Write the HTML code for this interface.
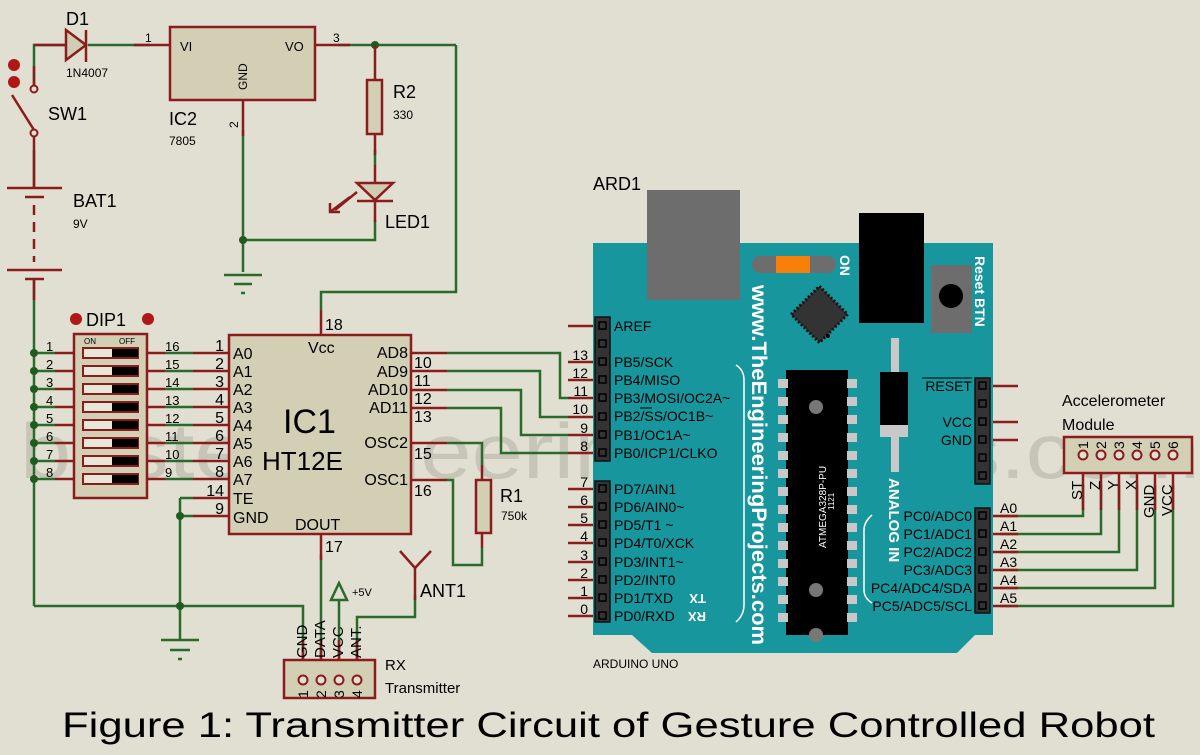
<!DOCTYPE html>
<html><head><meta charset="utf-8"><style>
html,body{margin:0;padding:0;background:#e0dfd1;}
svg{display:block;font-family:"Liberation Sans",Arial,sans-serif;}
</style></head><body>
<svg width="1200" height="755" viewBox="0 0 1200 755" xmlns="http://www.w3.org/2000/svg">
<rect width="1200" height="755" fill="#e0dfd1"/>
<!-- watermark -->
<text x="20" y="478" font-size="78" fill="#c6c5b7" textLength="1180" lengthAdjust="spacingAndGlyphs">bestengineeringprojects.com</text>

<g stroke="#2a6a2a" stroke-width="2.5" fill="none">
<polyline points="34,88 34,45 65,45"/>
<line x1="88" y1="45" x2="150" y2="45"/>
<line x1="338" y1="45" x2="456" y2="45"/>
<polyline points="456,45 456,292 321,292 321,310"/>
<line x1="243" y1="130" x2="243" y2="272"/>
<polyline points="375,150 375,165"/>
<polyline points="243,240 375,240 375,220"/>
<line x1="34" y1="150" x2="34" y2="188"/>
<line x1="34" y1="279" x2="34" y2="606"/>
<polyline points="34,606 303,606 303,665"/>
<line x1="180" y1="498" x2="180" y2="640"/>
<line x1="180" y1="498" x2="193" y2="498"/>
<line x1="180" y1="516" x2="193" y2="516"/>
<line x1="321" y1="555" x2="321" y2="668"/>
<line x1="339" y1="600" x2="339" y2="668"/>
<polyline points="357,668 357,617 415,617 415,595"/>
<polyline points="447,353 560,353 560,398 568,398"/>
<polyline points="447,371 540,371 540,417 568,417"/>
<polyline points="447,390 521,390 521,435 568,435"/>
<polyline points="447,408 501,408 501,453 568,453"/>
<polyline points="447,443 482,443 482,465"/>
<polyline points="447,480 453,480 453,565 482,565 482,548"/>
<polyline points="1000,516 1083,516 1083,485"/>
<polyline points="1000,534 1101,534 1101,485"/>
<polyline points="1000,552 1119,552 1119,485"/>
<polyline points="1000,570 1137,570 1137,485"/>
<polyline points="1000,588 1155,588 1155,485"/>
<polyline points="1000,606 1173,606 1173,485"/>
<line x1="34" y1="353" x2="55" y2="353"/><line x1="34" y1="371" x2="55" y2="371"/><line x1="34" y1="389" x2="55" y2="389"/><line x1="34" y1="407" x2="55" y2="407"/><line x1="34" y1="425" x2="55" y2="425"/><line x1="34" y1="443" x2="55" y2="443"/><line x1="34" y1="461" x2="55" y2="461"/><line x1="34" y1="479" x2="55" y2="479"/>
<line x1="165" y1="353" x2="193" y2="353"/><line x1="165" y1="371" x2="193" y2="371"/><line x1="165" y1="389" x2="193" y2="389"/><line x1="165" y1="407" x2="193" y2="407"/><line x1="165" y1="425" x2="193" y2="425"/><line x1="165" y1="443" x2="193" y2="443"/><line x1="165" y1="461" x2="193" y2="461"/><line x1="165" y1="479" x2="193" y2="479"/>
</g>
<g fill="#1f5a1f">
<circle cx="375" cy="45" r="4"/><circle cx="243" cy="240" r="4"/><circle cx="180" cy="516" r="4"/><circle cx="180" cy="606" r="4"/>
<circle cx="34" cy="353" r="4"/><circle cx="34" cy="371" r="4"/><circle cx="34" cy="389" r="4"/><circle cx="34" cy="407" r="4"/><circle cx="34" cy="425" r="4"/><circle cx="34" cy="443" r="4"/><circle cx="34" cy="461" r="4"/><circle cx="34" cy="479" r="4"/>
</g>

<g stroke="#8b1c1c" stroke-width="2.5" fill="none">
<line x1="34" y1="45" x2="65" y2="45"/>
<line x1="134" y1="45" x2="170" y2="45"/>
<line x1="315" y1="45" x2="350" y2="45"/>
<line x1="243" y1="100" x2="243" y2="136"/>
<line x1="375" y1="45" x2="375" y2="80"/><line x1="375" y1="134" x2="375" y2="155"/>
<line x1="375" y1="165" x2="375" y2="222"/>
<line x1="34" y1="66" x2="34" y2="88"/>
<line x1="34" y1="132" x2="34" y2="165"/>
<line x1="34" y1="165" x2="34" y2="188"/>
<line x1="7" y1="188" x2="62" y2="188"/><line x1="25" y1="197" x2="44" y2="197"/>
<line x1="34" y1="205" x2="34" y2="262" stroke-dasharray="10,7"/>
<line x1="7" y1="270" x2="62" y2="270"/><line x1="25" y1="279" x2="44" y2="279"/>
<line x1="34" y1="279" x2="34" y2="300"/>
<line x1="12" y1="95" x2="34" y2="130"/>
<line x1="321" y1="310" x2="321" y2="335"/>
<line x1="321" y1="534" x2="321" y2="560"/>
<line x1="193" y1="353" x2="229" y2="353"/><line x1="193" y1="371" x2="229" y2="371"/><line x1="193" y1="389" x2="229" y2="389"/><line x1="193" y1="407" x2="229" y2="407"/><line x1="193" y1="425" x2="229" y2="425"/><line x1="193" y1="443" x2="229" y2="443"/><line x1="193" y1="461" x2="229" y2="461"/><line x1="193" y1="479" x2="229" y2="479"/><line x1="193" y1="498" x2="229" y2="498"/><line x1="193" y1="516" x2="229" y2="516"/>
<line x1="55" y1="353" x2="74" y2="353"/><line x1="55" y1="371" x2="74" y2="371"/><line x1="55" y1="389" x2="74" y2="389"/><line x1="55" y1="407" x2="74" y2="407"/><line x1="55" y1="425" x2="74" y2="425"/><line x1="55" y1="443" x2="74" y2="443"/><line x1="55" y1="461" x2="74" y2="461"/><line x1="55" y1="479" x2="74" y2="479"/>
<line x1="147" y1="353" x2="165" y2="353"/><line x1="147" y1="371" x2="165" y2="371"/><line x1="147" y1="389" x2="165" y2="389"/><line x1="147" y1="407" x2="165" y2="407"/><line x1="147" y1="425" x2="165" y2="425"/><line x1="147" y1="443" x2="165" y2="443"/><line x1="147" y1="461" x2="165" y2="461"/><line x1="147" y1="479" x2="165" y2="479"/>
<line x1="411" y1="353" x2="447" y2="353"/><line x1="411" y1="371" x2="447" y2="371"/><line x1="411" y1="390" x2="447" y2="390"/><line x1="411" y1="408" x2="447" y2="408"/><line x1="411" y1="443" x2="447" y2="443"/><line x1="411" y1="480" x2="447" y2="480"/>
<line x1="482" y1="465" x2="482" y2="480"/><line x1="482" y1="533" x2="482" y2="548"/>
<line x1="568" y1="326" x2="600" y2="326"/>
<line x1="568" y1="362" x2="600" y2="362"/><line x1="568" y1="380" x2="600" y2="380"/><line x1="568" y1="398" x2="600" y2="398"/><line x1="568" y1="417" x2="600" y2="417"/><line x1="568" y1="435" x2="600" y2="435"/><line x1="568" y1="453" x2="600" y2="453"/>
<line x1="568" y1="489" x2="600" y2="489"/><line x1="568" y1="507" x2="600" y2="507"/><line x1="568" y1="525" x2="600" y2="525"/><line x1="568" y1="543" x2="600" y2="543"/><line x1="568" y1="562" x2="600" y2="562"/><line x1="568" y1="580" x2="600" y2="580"/><line x1="568" y1="598" x2="600" y2="598"/><line x1="568" y1="616" x2="600" y2="616"/>
<line x1="984" y1="386" x2="1018" y2="386"/><line x1="984" y1="422" x2="1018" y2="422"/><line x1="984" y1="440" x2="1018" y2="440"/>
<line x1="984" y1="516" x2="1018" y2="516"/><line x1="984" y1="534" x2="1018" y2="534"/><line x1="984" y1="552" x2="1018" y2="552"/><line x1="984" y1="570" x2="1018" y2="570"/><line x1="984" y1="588" x2="1018" y2="588"/><line x1="984" y1="606" x2="1018" y2="606"/>
<line x1="1083" y1="455" x2="1083" y2="510"/><line x1="1101" y1="455" x2="1101" y2="510"/><line x1="1119" y1="455" x2="1119" y2="510"/><line x1="1137" y1="455" x2="1137" y2="510"/><line x1="1155" y1="455" x2="1155" y2="510"/><line x1="1173" y1="455" x2="1173" y2="510"/>
<line x1="303" y1="640" x2="303" y2="680"/><line x1="321" y1="640" x2="321" y2="680"/><line x1="339" y1="640" x2="339" y2="680"/><line x1="357" y1="640" x2="357" y2="680"/>
<line x1="357" y1="192" x2="335" y2="210"/><line x1="350" y1="197" x2="330" y2="212"/>
<polyline points="330,203 330,212 340,212"/>
</g>

<polygon points="66,30 66,60 86,45" fill="#cfcdb4" stroke="#8b1c1c" stroke-width="2.5"/>
<line x1="86" y1="30" x2="86" y2="62" stroke="#8b1c1c" stroke-width="2.5"/>
<circle cx="34" cy="89" r="3.5" fill="#e0dfd1" stroke="#8b1c1c" stroke-width="2"/>
<circle cx="34" cy="133" r="3.5" fill="#e0dfd1" stroke="#8b1c1c" stroke-width="2"/>
<circle cx="14" cy="65" r="6" fill="#b01818"/><circle cx="14" cy="82" r="6" fill="#b01818"/>
<rect x="170" y="27" width="145" height="73" fill="#d2cfb5" stroke="#8b1c1c" stroke-width="2.5"/>
<rect x="367" y="80" width="15" height="54" fill="#d2cfb5" stroke="#8b1c1c" stroke-width="2.5"/>
<polygon points="357,183 393,183 375,200" fill="#cfcdb4" stroke="#8b1c1c" stroke-width="2.5"/>
<line x1="357" y1="201" x2="393" y2="201" stroke="#8b1c1c" stroke-width="2.5"/>
<g stroke="#2a6a2a" stroke-width="2.5">
<line x1="224" y1="275" x2="262" y2="275"/><line x1="234" y1="284" x2="252" y2="284"/><line x1="241" y1="293" x2="245" y2="293"/>
<line x1="161" y1="640" x2="199" y2="640"/><line x1="170" y1="650" x2="190" y2="650"/><line x1="178" y1="659" x2="182" y2="659"/>
</g>
<rect x="74" y="334" width="73" height="164" fill="#d2cfb5" stroke="#8b1c1c" stroke-width="2.5"/>
<g stroke="#8b1c1c" stroke-width="2">
<rect x="83" y="348" width="55" height="10" fill="#e8e6d6"/><rect x="112" y="349" width="26" height="8" fill="#000" stroke="none"/>
<rect x="83" y="366" width="55" height="10" fill="#e8e6d6"/><rect x="112" y="367" width="26" height="8" fill="#000" stroke="none"/>
<rect x="83" y="384" width="55" height="10" fill="#e8e6d6"/><rect x="112" y="385" width="26" height="8" fill="#000" stroke="none"/>
<rect x="83" y="402" width="55" height="10" fill="#e8e6d6"/><rect x="112" y="403" width="26" height="8" fill="#000" stroke="none"/>
<rect x="83" y="420" width="55" height="10" fill="#e8e6d6"/><rect x="112" y="421" width="26" height="8" fill="#000" stroke="none"/>
<rect x="83" y="438" width="55" height="10" fill="#e8e6d6"/><rect x="112" y="439" width="26" height="8" fill="#000" stroke="none"/>
<rect x="83" y="456" width="55" height="10" fill="#e8e6d6"/><rect x="112" y="457" width="26" height="8" fill="#000" stroke="none"/>
<rect x="83" y="474" width="55" height="10" fill="#e8e6d6"/><rect x="112" y="475" width="26" height="8" fill="#000" stroke="none"/>
</g>
<circle cx="76" cy="319" r="6" fill="#b01818"/><circle cx="148" cy="319" r="6" fill="#b01818"/>
<rect x="229" y="335" width="182" height="199" fill="#d2cfb5" stroke="#8b1c1c" stroke-width="2.5"/>
<rect x="476" y="480" width="15" height="53" fill="#d2cfb5" stroke="#8b1c1c" stroke-width="2.5"/>
<polygon points="339,583 331,600 347,600" fill="none" stroke="#2a6a2a" stroke-width="2.5"/>
<g stroke="#8b1c1c" stroke-width="2.5" fill="none"><polyline points="400,551 415,568 431,551"/><line x1="415" y1="568" x2="415" y2="600"/></g>
<rect x="284" y="660" width="91" height="38" fill="#d2cfb5" stroke="#8b1c1c" stroke-width="2.5"/>
<g fill="#e0dfd1" stroke="#8b1c1c" stroke-width="2"><circle cx="303" cy="680" r="4.5"/><circle cx="321" cy="680" r="4.5"/><circle cx="339" cy="680" r="4.5"/><circle cx="357" cy="680" r="4.5"/></g>
<rect x="1064" y="437" width="128" height="36" fill="#d2cfb5" stroke="#8b1c1c" stroke-width="2.5"/>
<g fill="#e0dfd1" stroke="#8b1c1c" stroke-width="2"><circle cx="1083" cy="455" r="4.5"/><circle cx="1101" cy="455" r="4.5"/><circle cx="1119" cy="455" r="4.5"/><circle cx="1137" cy="455" r="4.5"/><circle cx="1155" cy="455" r="4.5"/><circle cx="1173" cy="455" r="4.5"/></g>

<!-- ARDUINO -->
<polygon points="593,243 993,243 993,635 975,635 957,653 652,653 632,635 593,635" fill="#17979d"/>
<rect x="647" y="190" width="93" height="110" fill="#6d6d6d"/>
<rect x="859" y="213" width="65" height="110" fill="#000"/>
<rect x="931" y="265" width="41" height="68" fill="#6d6d6d"/>
<circle cx="951" cy="296" r="12" fill="#000"/>
<rect x="752" y="256" width="84" height="17" rx="8.5" fill="#6d6d6d"/>
<rect x="776" y="256" width="34" height="17" fill="#f77f0a"/>
<rect x="800" y="293" width="40" height="40" fill="#333" stroke="#111" stroke-width="3" stroke-dasharray="2,2" transform="rotate(45 818 313)"/>
<circle cx="828" cy="336" r="2" fill="#000"/>
<rect x="786" y="370" width="62" height="265" fill="#000"/>
<g fill="#c8c8c8">
<rect x="778" y="379" width="10" height="9"/><rect x="778" y="397" width="10" height="9"/><rect x="778" y="415" width="10" height="9"/><rect x="778" y="433" width="10" height="9"/><rect x="778" y="451" width="10" height="9"/><rect x="778" y="469" width="10" height="9"/><rect x="778" y="487" width="10" height="9"/><rect x="778" y="505" width="10" height="9"/><rect x="778" y="523" width="10" height="9"/><rect x="778" y="541" width="10" height="9"/><rect x="778" y="559" width="10" height="9"/><rect x="778" y="577" width="10" height="9"/><rect x="778" y="595" width="10" height="9"/><rect x="778" y="613" width="10" height="9"/>
<rect x="847" y="379" width="10" height="9"/><rect x="847" y="397" width="10" height="9"/><rect x="847" y="415" width="10" height="9"/><rect x="847" y="433" width="10" height="9"/><rect x="847" y="451" width="10" height="9"/><rect x="847" y="469" width="10" height="9"/><rect x="847" y="487" width="10" height="9"/><rect x="847" y="505" width="10" height="9"/><rect x="847" y="523" width="10" height="9"/><rect x="847" y="541" width="10" height="9"/><rect x="847" y="559" width="10" height="9"/><rect x="847" y="577" width="10" height="9"/><rect x="847" y="595" width="10" height="9"/><rect x="847" y="613" width="10" height="9"/>
</g>
<circle cx="816" cy="407" r="7" fill="#777"/><circle cx="816" cy="590" r="7" fill="#777"/><circle cx="816" cy="635" r="7" fill="#777"/>
<rect x="891" y="338" width="8" height="34" fill="#c8c8c8"/>
<rect x="880" y="372" width="28" height="53" fill="#000"/>
<rect x="880" y="425" width="28" height="12" fill="#c8c8c8"/>
<rect x="891" y="437" width="8" height="35" fill="#c8c8c8"/>
<g fill="#333" stroke="#111" stroke-width="1.5">
<rect x="595" y="317" width="15" height="144"/><rect x="595" y="481" width="15" height="141"/>
<rect x="975" y="378" width="15" height="106"/><rect x="975" y="508" width="15" height="105"/>
</g>
<g fill="none" stroke="#000" stroke-width="1.5">
<rect x="599" y="322" width="7" height="7"/><rect x="599" y="340" width="7" height="7"/><rect x="599" y="358" width="7" height="7"/><rect x="599" y="376" width="7" height="7"/><rect x="599" y="394" width="7" height="7"/><rect x="599" y="413" width="7" height="7"/><rect x="599" y="431" width="7" height="7"/><rect x="599" y="449" width="7" height="7"/>
<rect x="599" y="485" width="7" height="7"/><rect x="599" y="503" width="7" height="7"/><rect x="599" y="521" width="7" height="7"/><rect x="599" y="539" width="7" height="7"/><rect x="599" y="558" width="7" height="7"/><rect x="599" y="576" width="7" height="7"/><rect x="599" y="594" width="7" height="7"/><rect x="599" y="612" width="7" height="7"/>
<rect x="979" y="382" width="7" height="7"/><rect x="979" y="400" width="7" height="7"/><rect x="979" y="418" width="7" height="7"/><rect x="979" y="436" width="7" height="7"/><rect x="979" y="454" width="7" height="7"/><rect x="979" y="472" width="7" height="7"/>
<rect x="979" y="512" width="7" height="7"/><rect x="979" y="530" width="7" height="7"/><rect x="979" y="548" width="7" height="7"/><rect x="979" y="566" width="7" height="7"/><rect x="979" y="584" width="7" height="7"/><rect x="979" y="602" width="7" height="7"/>
</g>
<path d="M736,365 Q744,370 744,380 L744,605 Q744,615 736,622" fill="none" stroke="#fff" stroke-width="1.5"/>
<path d="M872,515 Q864,522 864,530 L864,590 Q864,598 872,603" fill="none" stroke="#fff" stroke-width="1.5"/>

<g fill="#000" font-size="14">
<text x="614" y="331">AREF</text>
<text x="614" y="367">PB5/SCK</text><text x="614" y="385">PB4/MISO</text><text x="614" y="403">PB3/MOSI/OC2A~</text><text x="614" y="421">PB2/SS/OC1B~</text><text x="614" y="440">PB1/OC1A~</text><text x="614" y="458">PB0/ICP1/CLKO</text>
<text x="614" y="494">PD7/AIN1</text><text x="614" y="512">PD6/AIN0~</text><text x="614" y="530">PD5/T1 ~</text><text x="614" y="548">PD4/T0/XCK</text><text x="614" y="567">PD3/INT1~</text><text x="614" y="585">PD2/INT0</text><text x="614" y="603">PD1/TXD</text><text x="614" y="621">PD0/RXD</text>
<text x="972" y="391" text-anchor="end">RESET</text><text x="972" y="427" text-anchor="end">VCC</text><text x="972" y="445" text-anchor="end">GND</text>
<text x="972" y="521" text-anchor="end">PC0/ADC0</text><text x="972" y="539" text-anchor="end">PC1/ADC1</text><text x="972" y="557" text-anchor="end">PC2/ADC2</text><text x="972" y="575" text-anchor="end">PC3/ADC3</text><text x="972" y="593" text-anchor="end">PC4/ADC4/SDA</text><text x="972" y="611" text-anchor="end">PC5/ADC5/SCL</text>
</g>
<line x1="922" y1="378" x2="972" y2="378" stroke="#000" stroke-width="1"/>
<line x1="640" y1="408" x2="652" y2="408" stroke="#000" stroke-width="1"/>
<text font-size="13" font-weight="bold" fill="#fff" transform="translate(706,594) rotate(180)">TX</text>
<text font-size="13" font-weight="bold" fill="#fff" transform="translate(706,612) rotate(180)">RX</text>
<text font-size="21" font-weight="bold" fill="#fff" transform="translate(752,285) rotate(90)" textLength="360" lengthAdjust="spacingAndGlyphs">www.TheEngineeringProjects.com</text>
<text font-size="15" font-weight="bold" fill="#fff" transform="translate(889,478) rotate(90)">ANALOG IN</text>
<text font-size="14" font-weight="bold" fill="#fff" transform="translate(840,255) rotate(90)">ON</text>
<text font-size="14" font-weight="bold" fill="#fff" transform="translate(975,256) rotate(90)">Reset BTN</text>
<text font-size="10" fill="#fff" transform="translate(826,548) rotate(-90)">ATMEGA328P-PU</text>
<text font-size="8" fill="#fff" transform="translate(834,510) rotate(-90)">1121</text>

<g fill="#000">
<text x="66" y="25" font-size="18">D1</text>
<text x="66" y="77" font-size="12">1N4007</text>
<text x="145" y="42" font-size="12">1</text>
<text x="180" y="51" font-size="13">VI</text>
<text x="285" y="51" font-size="13">VO</text>
<text x="333" y="42" font-size="12">3</text>
<text font-size="12" transform="translate(247,90) rotate(-90)">GND</text>
<text font-size="12" transform="translate(238,128) rotate(-90)">2</text>
<text x="169" y="125" font-size="18">IC2</text>
<text x="169" y="145" font-size="12">7805</text>
<text x="393" y="98" font-size="18">R2</text>
<text x="393" y="119" font-size="12">330</text>
<text x="385" y="228" font-size="18">LED1</text>
<text x="48" y="120" font-size="18">SW1</text>
<text x="73" y="207" font-size="18">BAT1</text>
<text x="73" y="228" font-size="12">9V</text>
<text x="86" y="326" font-size="18">DIP1</text>
<text x="84" y="344" font-size="8">ON</text><text x="119" y="344" font-size="8">OFF</text>
</g>
<g fill="#000" font-size="13">
<text x="46" y="351">1</text><text x="46" y="369">2</text><text x="46" y="387">3</text><text x="46" y="405">4</text><text x="46" y="423">5</text><text x="46" y="441">6</text><text x="46" y="459">7</text><text x="46" y="477">8</text>
<text x="165" y="351">16</text><text x="165" y="369">15</text><text x="165" y="387">14</text><text x="165" y="405">13</text><text x="165" y="423">12</text><text x="165" y="441">11</text><text x="165" y="459">10</text><text x="165" y="477">9</text>
</g>
<g fill="#000" font-size="16">
<text x="224" y="351" text-anchor="end">1</text><text x="224" y="369" text-anchor="end">2</text><text x="224" y="387" text-anchor="end">3</text><text x="224" y="405" text-anchor="end">4</text><text x="224" y="423" text-anchor="end">5</text><text x="224" y="441" text-anchor="end">6</text><text x="224" y="459" text-anchor="end">7</text><text x="224" y="477" text-anchor="end">8</text><text x="224" y="496" text-anchor="end">14</text><text x="224" y="514" text-anchor="end">9</text>
<text x="233" y="359">A0</text><text x="233" y="377">A1</text><text x="233" y="395">A2</text><text x="233" y="413">A3</text><text x="233" y="431">A4</text><text x="233" y="449">A5</text><text x="233" y="467">A6</text><text x="233" y="485">A7</text><text x="233" y="504">TE</text><text x="233" y="523">GND</text>
<text x="308" y="353">Vcc</text>
<text x="325" y="330">18</text>
<text x="408" y="358" text-anchor="end">AD8</text><text x="408" y="377" text-anchor="end">AD9</text><text x="408" y="395" text-anchor="end">AD10</text><text x="408" y="413" text-anchor="end">AD11</text><text x="408" y="448" text-anchor="end">OSC2</text><text x="408" y="485" text-anchor="end">OSC1</text>
<text x="414" y="368">10</text><text x="414" y="386">11</text><text x="414" y="404">12</text><text x="414" y="422">13</text><text x="414" y="459">15</text><text x="414" y="496">16</text>
<text x="295" y="530">DOUT</text>
<text x="325" y="552">17</text>
</g>
<text x="283" y="433" font-size="34" fill="#000">IC1</text>
<text x="262" y="470" font-size="26" fill="#000">HT12E</text>
<g fill="#000">
<text x="500" y="502" font-size="18">R1</text>
<text x="501" y="520" font-size="12">750k</text>
<text x="420" y="597" font-size="18">ANT1</text>
<text x="352" y="596" font-size="11">+5V</text>
<text x="385" y="670" font-size="15">RX</text>
<text x="385" y="693" font-size="15">Transmitter</text>
<text x="593" y="190" font-size="18">ARD1</text>
<text x="593" y="668" font-size="12">ARDUINO UNO</text>
<text x="1062" y="406" font-size="16">Accelerometer</text>
<text x="1062" y="430" font-size="16">Module</text>
</g>
<g fill="#000" font-size="14">
<text font-size="15" transform="translate(307,658) rotate(-90)">GND</text>
<text font-size="15" transform="translate(325,658) rotate(-90)">DATA</text>
<text font-size="15" transform="translate(343,658) rotate(-90)">VCC</text>
<text font-size="15" transform="translate(361,658) rotate(-90)">ANT.</text>
<text transform="translate(308,698) rotate(-90)">1</text><text transform="translate(326,698) rotate(-90)">2</text><text transform="translate(344,698) rotate(-90)">3</text><text transform="translate(362,698) rotate(-90)">4</text>
<text transform="translate(1088,449) rotate(-90)">1</text><text transform="translate(1106,449) rotate(-90)">2</text><text transform="translate(1124,449) rotate(-90)">3</text><text transform="translate(1142,449) rotate(-90)">4</text><text transform="translate(1160,449) rotate(-90)">5</text><text transform="translate(1178,449) rotate(-90)">6</text>
<text font-size="15" transform="translate(1082,500) rotate(-90)">ST</text>
<text font-size="15" transform="translate(1100,490) rotate(-90)">Z</text>
<text font-size="15" transform="translate(1118,490) rotate(-90)">Y</text>
<text font-size="15" transform="translate(1136,490) rotate(-90)">X</text>
<text font-size="15" transform="translate(1154,518) rotate(-90)">GND</text>
<text font-size="15" transform="translate(1172,516) rotate(-90)">VCC</text>
</g>
<g fill="#000" font-size="14">
<text x="588" y="360" text-anchor="end">13</text><text x="588" y="378" text-anchor="end">12</text><text x="588" y="396" text-anchor="end">11</text><text x="588" y="414" text-anchor="end">10</text><text x="588" y="433" text-anchor="end">9</text><text x="588" y="451" text-anchor="end">8</text>
<text x="588" y="487" text-anchor="end">7</text><text x="588" y="505" text-anchor="end">6</text><text x="588" y="523" text-anchor="end">5</text><text x="588" y="541" text-anchor="end">4</text><text x="588" y="560" text-anchor="end">3</text><text x="588" y="578" text-anchor="end">2</text><text x="588" y="596" text-anchor="end">1</text><text x="588" y="614" text-anchor="end">0</text>
<text x="1000" y="513">A0</text><text x="1000" y="531">A1</text><text x="1000" y="549">A2</text><text x="1000" y="567">A3</text><text x="1000" y="585">A4</text><text x="1000" y="603">A5</text>
</g>
<text x="62" y="737" font-size="35" fill="#000" textLength="1093" lengthAdjust="spacingAndGlyphs">Figure 1: Transmitter Circuit of Gesture Controlled Robot</text>
</svg>
</body></html>
